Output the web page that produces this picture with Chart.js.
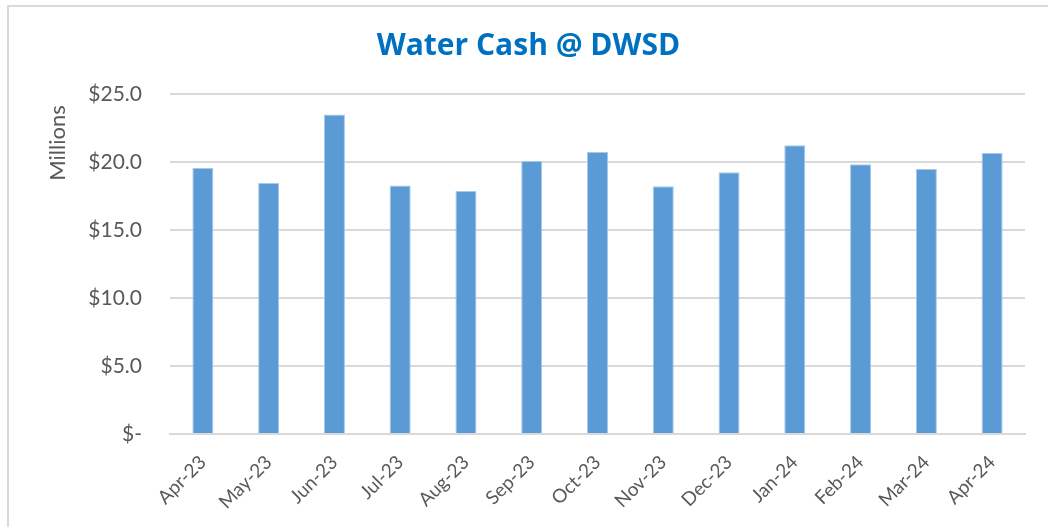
<!DOCTYPE html>
<html>
<head>
<meta charset="utf-8">
<script src="https://cdn.jsdelivr.net/npm/chart.js@4.4.1/dist/chart.umd.min.js"></script>
<style>
  body { margin: 0; background: #fff; }
  #wrap { position: relative; width: 1048px; height: 527px; overflow: hidden; }
  #frame { position: absolute; left: 7px; top: 5px; width: 1100px; height: 600px;
           border-left: 2px solid #d9d9d9; border-top: 2px solid #d9d9d9; }
  canvas { position: absolute; left: 0; top: 0; }
</style>
</head>
<body>
<div id="wrap">
  <div id="frame"></div>
  <canvas id="mainChart" width="1048" height="527"></canvas>
</div>
<script>
    const meses = ['Apr-23', 'May-23', 'Jun-23', 'Jul-23', 'Aug-23', 'Sep-23', 'Oct-23',
                   'Nov-23', 'Dec-23', 'Jan-24', 'Feb-24', 'Mar-24', 'Apr-24'];
    // millones de dólares
    const efectivo = [19.56, 18.46, 23.5, 18.28, 17.87, 20.07, 20.74,
                      18.21, 19.24, 21.23, 19.83, 19.49, 20.66];
    const yTickLabels = ['$-', '$5.0', '$10.0', '$15.0', '$20.0', '$25.0'];

    const ctx = document.getElementById('mainChart').getContext('2d');
    const myChart = new Chart(ctx, {
        type: 'bar',
        data: {
            labels: meses,
            datasets: [{
                label: 'Water Cash',
                data: efectivo,
                backgroundColor: '#5b9bd5',
                borderColor: '#a8c8ea',
                borderWidth: 1,
                categoryPercentage: 1,
                barPercentage: 0.32
            }]
        },
        options: {
            responsive: false,
            animation: false,
            layout: { padding: { left: 32, right: 23, top: 0, bottom: 0 } },
            plugins: {
                legend: { display: false },
                tooltip: { enabled: false },
                title: {
                    display: true,
                    text: 'Water Cash @ DWSD',
                    color: '#0070c0',
                    font: { family: 'Open Sans', size: 30, weight: 'bold', lineHeight: 1.2 },
                    padding: { top: 28, bottom: 30 }
                }
            },
            scales: {
                x: {
                    grid: { display: false },
                    border: { display: true, color: '#d9d9d9', width: 2 },
                    ticks: {
                        color: '#595959',
                        font: { family: 'Lato', size: 19 },
                        minRotation: 45,
                        maxRotation: 45,
                        padding: 9
                    },
                    afterFit: function(scale) { scale.height = 93; }
                },
                y: {
                    min: 0,
                    max: 25,
                    grid: { color: '#d9d9d9', lineWidth: 2, drawTicks: false },
                    border: { display: false },
                    ticks: {
                        stepSize: 5,
                        color: '#595959',
                        font: { family: 'Lato', size: 21 },
                        padding: 28,
                        callback: function(value, index) { return yTickLabels[index]; }
                    },
                    title: {
                        display: true,
                        text: 'Millions  ',
                        align: 'end',
                        color: '#595959',
                        font: { family: 'Lato', size: 22, lineHeight: 1.2 },
                        padding: { top: 13, bottom: 0 }
                    },
                    afterFit: function(scale) { scale.width = 138; }
                }
            }
        }
    });
</script>
</body>
</html>
